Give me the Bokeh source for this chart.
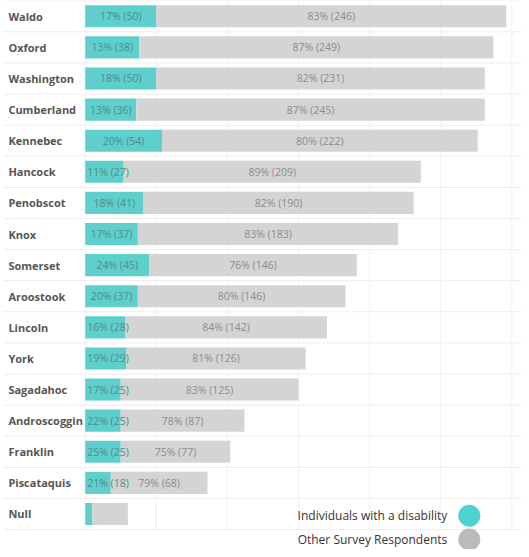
from bokeh.plotting import figure
from bokeh.models import ColumnDataSource, Range1d
from bokeh.core.properties import value
from bokeh.embed import file_html
from bokeh.resources import INLINE

# ---------------- data ----------------
counties = ["Waldo", "Oxford", "Washington", "Cumberland", "Kennebec", "Hancock",
            "Penobscot", "Knox", "Somerset", "Aroostook", "Lincoln", "York",
            "Sagadahoc", "Androscoggin", "Franklin", "Piscataquis", "Null"]
disability = [50, 38, 50, 36, 54, 27, 41, 37, 45, 37, 28, 29, 25, 25, 25, 18, 5]
others = [246, 249, 231, 245, 222, 209, 190, 183, 146, 146, 142, 126, 125, 87, 77, 68, 25]
show_labels = [True] * 16 + [False]
grid_ticks = [0, 50, 100, 150, 200, 250, 300]
legend_labels = ["Individuals with a disability", "Other Survey Respondents"]

# ---------------- layout / style ----------------
W, H = 521, 549
SX, SY = W / 529, H / 557          # fit the 529x557 design into the figure
PX_PER_UNIT = 1.444 * SX
ROW_PX = 31.56 * SY
LEFT_PX = 86 * SX
TOP_PX = 16 * SY
BAR_H = 0.71
CYAN = "#5fcfcb"
GREY = "#d4d4d4"
CYAN_LEG = "#4fd2d2"
GREY_LEG = "#bbbbbb"
FONT = "Open Sans"

n = len(counties)
idx = list(range(n))
totals = [d + o for d, o in zip(disability, others)]

x_range = Range1d(-LEFT_PX / PX_PER_UNIT, (W - LEFT_PX) / PX_PER_UNIT)
y_range = Range1d((H - TOP_PX) / ROW_PX, -TOP_PX / ROW_PX)

p = figure(width=W, height=H, x_range=x_range, y_range=y_range,
           output_backend="svg", toolbar_location=None,
           x_axis_location=None, y_axis_location=None,
           min_border=0, outline_line_color=None)
p.grid.visible = False
p.background_fill_color = "white"
p.border_fill_color = "white"

# row separators
seps = [i - 0.5 for i in range(n + 1)]
p.segment(x0=[x_range.start + 3 / PX_PER_UNIT] * len(seps), x1=[x_range.end] * len(seps),
          y0=seps, y1=seps, line_color="#ededed", line_width=1)

# vertical grid lines (only within chart rows)
p.segment(x0=grid_ticks, x1=grid_ticks, y0=[-0.5] * len(grid_ticks),
          y1=[n - 0.5] * len(grid_ticks), line_color="#f1f1f1", line_width=1)

# bars
src = ColumnDataSource(dict(y=idx, d=disability, o=others, t=totals))
p.hbar(y="y", left=0, right="d", height=BAR_H, source=src,
       fill_color=CYAN, line_color=None)
p.hbar(y="y", left="d", right="t", height=BAR_H, source=src,
       fill_color=GREY, line_color=None)

# category labels
p.text(x=[x_range.start] * n, y=idx, text=counties, x_offset=8 * SX,
       text_font=value(FONT), text_font_size="11px", text_font_style="bold",
       text_color="#555555", text_baseline="middle", text_align="left")

# value labels
c_in = dict(x=[], y=[], text=[])
c_left = dict(x=[], y=[], text=[])
g_lab = dict(x=[], y=[], text=[])
for i, (d, o, t, show) in enumerate(zip(disability, others, totals, show_labels)):
    if not show:
        continue
    pd_ = round(d / t * 100)
    po = round(o / t * 100)
    lab = f"{pd_}% ({d})"
    if d * PX_PER_UNIT >= 50:
        c_in["x"].append(d / 2); c_in["y"].append(i); c_in["text"].append(lab)
    else:
        c_left["x"].append(0); c_left["y"].append(i); c_left["text"].append(lab)
    g_lab["x"].append(d + o / 2); g_lab["y"].append(i); g_lab["text"].append(f"{po}% ({o})")

lab_kw = dict(text_font=value(FONT), text_font_size="10.5px", text_baseline="middle")
p.text(x="x", y="y", text="text", source=ColumnDataSource(c_in),
       text_align="center", text_color="#4b8e8b", **lab_kw)
p.text(x="x", y="y", text="text", source=ColumnDataSource(c_left),
       text_align="left", x_offset=2, text_color="#4b8e8b", **lab_kw)
p.text(x="x", y="y", text="text", source=ColumnDataSource(g_lab),
       text_align="center", text_color="#8c8c8c", **lab_kw)

# legend (text left of circle)
leg_x = (476 - 86) / 1.444
leg_y = [n - 1 + 0.06, n - 1 + 0.82]
p.scatter(x=[leg_x, leg_x], y=leg_y, size=22, marker="circle",
          fill_color=[CYAN_LEG, GREY_LEG], line_color=None)
p.text(x=[leg_x, leg_x], y=leg_y, text=legend_labels, x_offset=-22,
       text_font=value(FONT), text_font_size="12px", text_color="#333333",
       text_baseline="middle", text_align="right")

open("out.html", "w").write(file_html(p, INLINE))
